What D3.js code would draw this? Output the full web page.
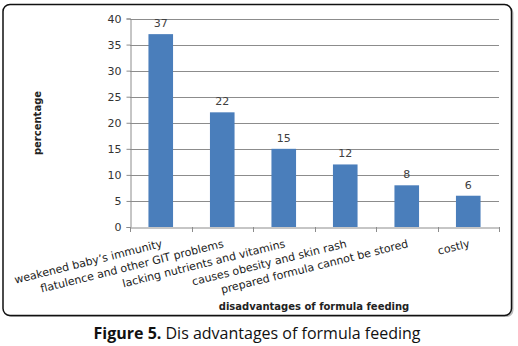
<!DOCTYPE html>
<html><head><meta charset="utf-8">
<script src="https://cdn.jsdelivr.net/npm/d3@7"></script>
<style>body{margin:0;background:#fff;}svg{display:block;}</style>
</head><body>
<script>
const categories = ["weakened baby’s immunity","flatulence and other GIT problems","lacking nutrients and vitamins","causes obesity and skin rash","prepared formula cannot be stored","costly"];
const values = [37,22,15,12,8,6];
const yTicks = [0,5,10,15,20,25,30,35,40];

const W=518,H=346;
const svg=d3.select("body").append("svg").attr("width",W).attr("height",H);
svg.append("rect").attr("x",4.5).attr("y",6).attr("width",509).attr("height",311).attr("rx",7).attr("fill","#bbb");
svg.append("rect").attr("x",3).attr("y",4.5).attr("width",508.5).attr("height",311).attr("rx",7)
  .attr("fill","#fff").attr("stroke","#111").attr("stroke-width",1.5);

const x=d3.scaleBand().domain(categories).range([130,499]).paddingInner(0.6).paddingOuter(0.3);
const xb=d3.scaleBand().domain(categories).range([130,499]);
const y=d3.scaleLinear().domain([0,40]).range([227,18.5]);
const font="DejaVu Sans";

// gridlines
svg.append("g").selectAll("line").data(yTicks.slice(1)).join("line")
  .attr("x1",130).attr("x2",499).attr("y1",d=>Math.round(y(d))+0.5).attr("y2",d=>Math.round(y(d))+0.5)
  .attr("stroke","#8c8c8c").attr("stroke-width",1);

// y axis
const ya=svg.append("g").attr("transform","translate(130.5,0)").call(d3.axisLeft(y).tickValues(yTicks).tickSize(4).tickPadding(5));
ya.select(".domain").attr("stroke","#8c8c8c");
ya.selectAll("line").attr("stroke","#8c8c8c");
ya.selectAll("text").attr("font-family",font).attr("font-size",11).attr("fill","#333");

// bars
svg.append("g").selectAll("rect").data(values).join("rect")
  .attr("x",(d,i)=>x(categories[i])).attr("width",x.bandwidth())
  .attr("y",d=>y(d)).attr("height",d=>y(0)-y(d)).attr("fill","#4a7ebb");

// x axis
const xa=svg.append("g").attr("transform","translate(0,227.5)").call(d3.axisBottom(xb).tickSize(0).tickFormat(""));
xa.select(".domain").attr("stroke","#8c8c8c");
svg.append("g").selectAll("line").data(d3.range(categories.length+1)).join("line")
  .attr("x1",i=>Math.round(130+i*xb.step())+0.5).attr("x2",i=>Math.round(130+i*xb.step())+0.5)
  .attr("y1",227).attr("y2",232).attr("stroke","#8c8c8c");

// data labels
svg.append("g").selectAll("text").data(values).join("text")
  .attr("x",(d,i)=>x(categories[i])+x.bandwidth()/2).attr("y",d=>y(d)-7)
  .attr("text-anchor","middle").attr("font-family",font).attr("font-size",11).attr("fill","#404040").text(d=>d);

// category labels
svg.append("g").selectAll("text").data(categories).join("text")
  .attr("transform",d=>`translate(${xb(d)+xb.bandwidth()/2+2},247) rotate(-14)`)
  .attr("text-anchor","end").attr("font-family",font).attr("font-size",11).attr("fill","#222").text(d=>d);

// axis titles
svg.append("text").attr("transform","translate(41,123) rotate(-90)").attr("text-anchor","middle")
  .attr("font-family",font).attr("font-size",10).attr("font-weight","bold").attr("fill","#222").text("percentage");
svg.append("text").attr("x",314).attr("y",310).attr("text-anchor","middle")
  .attr("font-family",font).attr("font-size",10).attr("font-weight","bold").attr("fill","#222").text("disadvantages of formula feeding");

// caption
const cap=svg.append("text").attr("x",257).attr("y",339).attr("text-anchor","middle")
  .attr("font-family","Open Sans").attr("font-size",16).attr("fill","#111");
cap.append("tspan").attr("font-weight","bold").text("Figure 5.");
cap.append("tspan").text(" Dis advantages of formula feeding");
</script>
</body></html>
